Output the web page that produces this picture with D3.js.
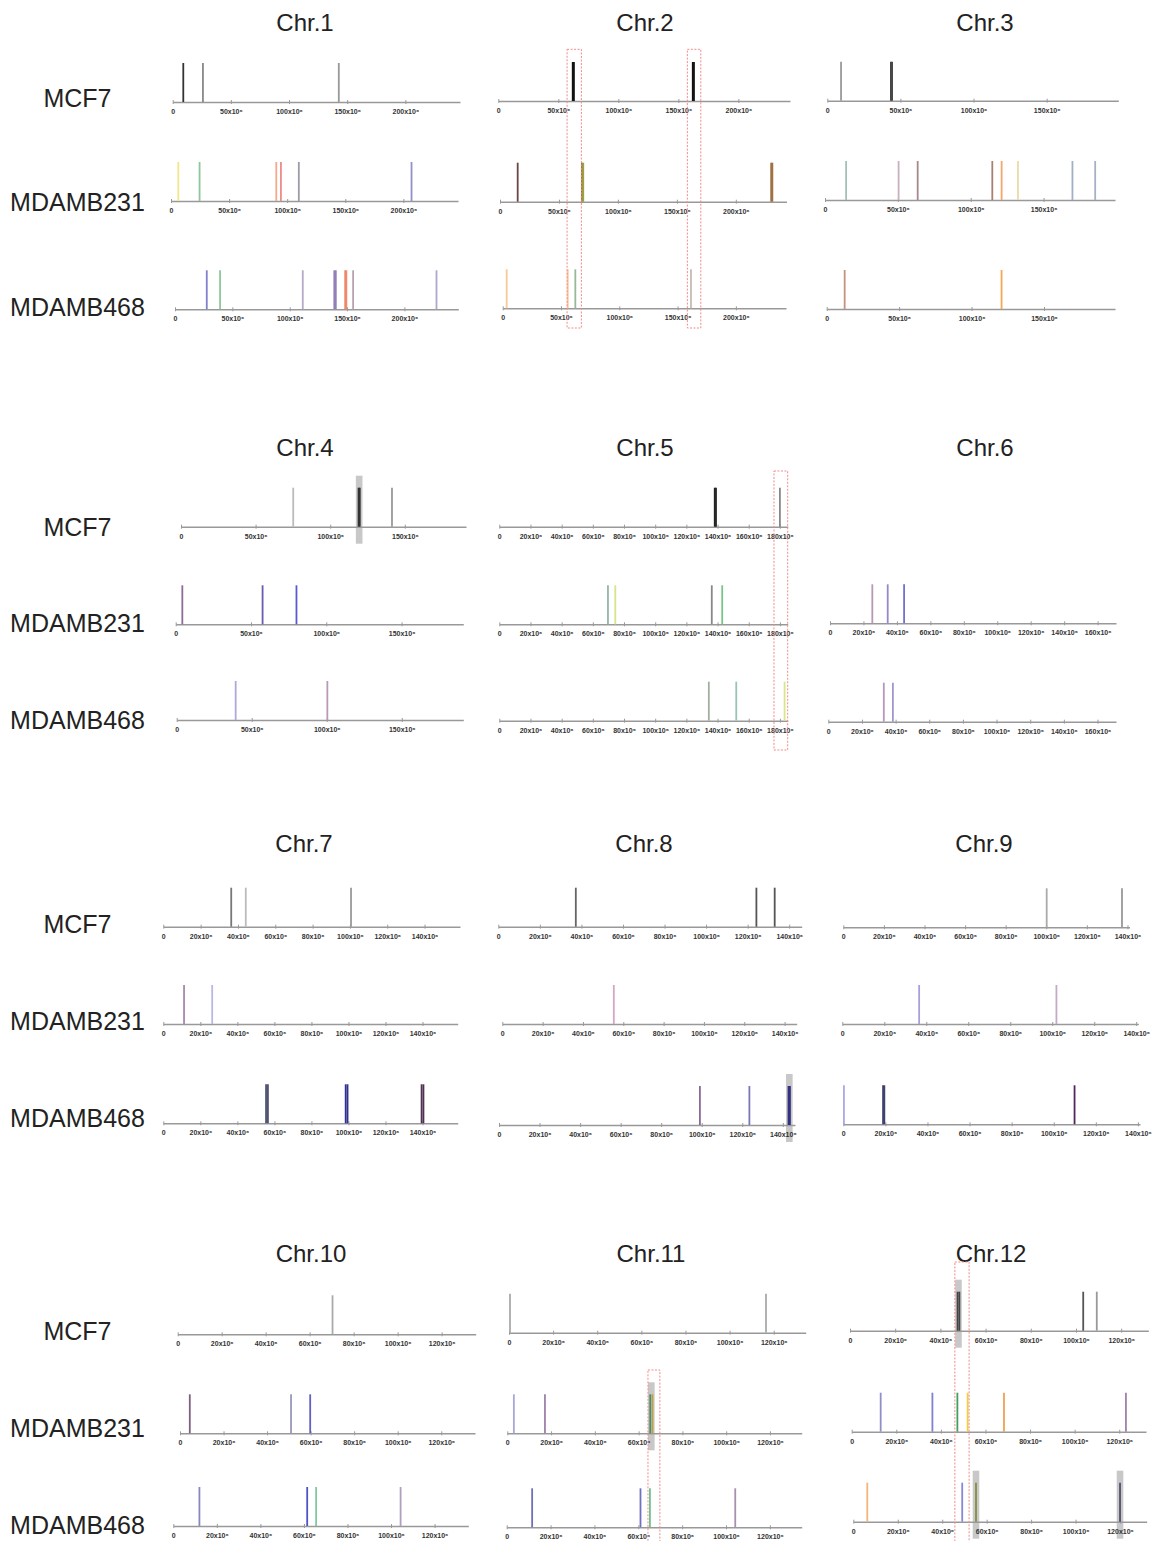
<!DOCTYPE html>
<html><head><meta charset="utf-8">
<script src="https://cdn.jsdelivr.net/npm/d3@7"></script>
<style>body{margin:0;background:#fff}</style>
</head><body>
<script>
// ---------------- DATA ----------------
const chromosomes = ["Chr.1","Chr.2","Chr.3","Chr.4","Chr.5","Chr.6","Chr.7","Chr.8","Chr.9","Chr.10","Chr.11","Chr.12"];
const cellLines = ["MCF7","MDAMB231","MDAMB468"];
const axisMaxMb = [247,243,199,191,185,171,159,146,141,135.5,134.5,132];
const tickStepMb = [50,50,50,50,20,20,20,20,20,20,20,20];
const tickMaxMb = [200,200,150,150,180,160,140,140,140,120,120,120];

// events: [position (Mb), colour]
const eventsMCF7 = [
  [[9.1,"#333"],[26,"#888"],[142.8,"#999"]],
  [[62,"#111"],[63,"#111"],[162,"#111"],[163,"#111"]],
  [[9.4,"#999"],[43.5,"#444"],[44.3,"#444"]],
  [[75.2,"#bbb"],[119,"#333"],[119.8,"#333"],[141.4,"#999"]],
  [[138.2,"#222"],[139,"#222"],[180,"#888"]],
  null,
  [[36.4,"#777"],[44.2,"#bbb"],[100.6,"#999"]],
  [[37.3,"#666"],[124.2,"#555"],[133,"#555"]],
  [[100.2,"#aaa"],[137.3,"#999"]],
  [[70.4,"#aaa"]],
  [[0.45,"#aaa"],[116.5,"#aaa"]],
  [[47.6,"#444"],[48.4,"#444"],[103.2,"#555"],[109.2,"#999"]]
];
const eventsMDAMB231 = [
  [[6.3,"#f3e68a"],[24.6,"#8fc79c"],[90.6,"#f4aa8a"],[94.6,"#ef8a8a"],[110,"#a09aa8"],[207,"#9090cc"]],
  [[15,"#6b4545"],[69.5,"#7a7a30"],[70.6,"#a0a040"],[230,"#a07040"],[231,"#a07040"]],
  [[14.5,"#a0c0b8"],[50.5,"#c8b0c0"],[63.6,"#a88888"],[114.8,"#a88070"],[121.2,"#f4a868"],[132.4,"#e8dca8"],[169.8,"#a0b0c8"],[185.4,"#a8b0c4"]],
  [[4.4,"#906a9a"],[57.7,"#6a5ab0"],[80.2,"#5a5acc"]],
  [[69.7,"#90b8a8"],[74.4,"#d8e488"],[136.3,"#888"],[143,"#78c488"]],
  [[25.3,"#b898b8"],[34.5,"#9888c8"],[44.3,"#7070d0"]],
  [[11.2,"#a888a8"],[26.4,"#b8b8e8"]],
  [[55.3,"#d0a8c0"]],
  [[36.6,"#a8a0d8"],[102,"#c8a8c8"]],
  [[4.5,"#806080"],[51,"#9898b8"],[59.8,"#6060c8"]],
  [[3,"#a8a8d8"],[17.2,"#a080a8"],[65.3,"#409070"],[66.3,"#c0a040"]],
  [[13,"#9090c8"],[36.2,"#8080d0"],[47.4,"#40a060"],[52,"#f0d040"],[68.3,"#f0a050"],[123,"#a080a8"]]
];
const eventsMDAMB468 = [
  [[27.7,"#8080cc"],[39.3,"#8cc89c"],[111.4,"#b4aac8"],[138.9,"#9080b8"],[140.2,"#9080b8"],[148.4,"#f08060"],[149.4,"#f08a6a"],[155.3,"#b8a0b0"],[228,"#b0a8cc"]],
  [[3.4,"#f8c898"],[55.8,"#f8c898"],[62.3,"#98b898"],[161.5,"#c8bab4"]],
  [[12.4,"#c89080"],[120.7,"#f4a850"]],
  [[39.3,"#b0a8d8"],[100.4,"#b89ab8"]],
  [[134.4,"#a0b0a0"],[152,"#98c4b4"],[183,"#dce488"]],
  [[33,"#b898b8"],[38.4,"#a098cc"]],
  [[55.5,"#505070"],[56.5,"#505070"],[98.5,"#303090"],[99.5,"#303090"],[139.5,"#503050"],[140.5,"#503050"]],
  [[99.1,"#8a6a98"],[123.5,"#7878b8"],[142.8,"#303080"],[143.5,"#303080"]],
  [[0.3,"#a8a8e8"],[18.9,"#404070"],[19.5,"#404070"],[109.9,"#502858"]],
  [[12,"#8888c0"],[61.5,"#5050c8"],[65.6,"#80c8a0"],[104.4,"#b0a0c0"]],
  [[11.6,"#7070b8"],[61,"#7070c0"],[65.3,"#70c090"],[104.2,"#a890b0"]],
  [[6.3,"#f4b478"],[49,"#8888d8"],[55.2,"#809040"],[120,"#505070"]]
];
const allEvents = [eventsMCF7, eventsMDAMB231, eventsMDAMB468];

// grey-shaded events: [chromosome index, cell line index, position Mb]
const shadedEvents = [[3,0,119.4],[7,2,143.2],[10,1,65.8],[11,0,48],[11,2,55.2],[11,2,120]];
// red dashed highlight regions: [chromosome index, from Mb, to Mb]
const highlightRegions = [[1,57.3,69.2],[1,157.5,168.7],[4,176.2,185],[10,63,68.4],[11,46.4,52.7]];

// ---------------- LAYOUT ----------------
const W = 1157, H = 1541;
const panelRange = [
  [[172.7,460],[171,458],[175,458.3]],
  [[498.3,790],[500,786.5],[502.7,786]],
  [[827.3,1118.3],[825,1115],[826.7,1115]],
  [[181,466],[175.7,463.3],[176.7,463.3]],
  [[499.3,787.7],[499.3,787.7],[499.3,787.7]],
  [null,[830,1116],[828.3,1116]],
  [[163.3,460],[163.3,457.7],[163.3,457.7]],
  [[498.3,801.7],[502.3,796.7],[499,795]],
  [[843.3,1129.5],[842.3,1138.3],[843.3,1140]],
  [[177.7,475.7],[180,475],[173.3,468.3]],
  [[509,805.7],[507.3,801.7],[506.7,801.7]],
  [[850,1148.3],[851.7,1146],[853.3,1146.7]]
];
const panelBaseline = [
  [102,201,309.3],[101,201.7,308.3],[100.7,200,309],
  [526.7,624.3,720],[526.7,624.3,720.7],[null,623.3,721.7],
  [926.7,1024,1123.3],[926.7,1024,1125],[927.3,1024,1124.3],
  [1334.3,1433.3,1526],[1332.7,1433.3,1527.3],[1330.7,1431.7,1521.7]
];
const eventHeight = 39;
const titleX = [305,645,985,305,645,985,304,644,984,311,651,991];
const titleY = [22,447,843,1253];
const rowLabelY = [[98,202,307],[527,623,720],[924,1021,1118],[1331,1428,1525]];
const highlightSpan = {1:[49.3,328],4:[471,750],10:[1370,1545],11:[1262,1545]};

const svg = d3.select("body").append("svg").attr("width",W).attr("height",H)
  .style("font-family","'Liberation Sans', Arial, sans-serif");

// titles
chromosomes.forEach((name,c)=>{
  svg.append("text").attr("x",titleX[c]).attr("y",titleY[Math.floor(c/3)])
    .attr("text-anchor","middle").attr("dominant-baseline","central")
    .attr("font-size",24).attr("fill","#222").text(name);
});
// row labels
rowLabelY.forEach(ys=>{
  ys.forEach((yy,k)=>{
    svg.append("text").attr("x",77.5).attr("y",yy).attr("text-anchor","middle")
      .attr("dominant-baseline","central").attr("font-size",25).attr("fill","#222").text(cellLines[k]);
  });
});

const fmt = v => v===0 ? "0" : v+"x10\u2076";
const scales = {};

chromosomes.forEach((name,c)=>{
  cellLines.forEach((cl,k)=>{
    const ev = allEvents[k][c];
    if(!ev || !panelRange[c][k]) return;
    const base = panelBaseline[c][k];
    const x = d3.scaleLinear().domain([0,axisMaxMb[c]]).range(panelRange[c][k]);
    const y = d3.scaleLinear().domain([0,1]).range([base, base-eventHeight]);
    scales[c+"_"+k] = x;
    const g = svg.append("g");

    // shaded boxes
    g.selectAll("rect.shade").data(shadedEvents.filter(s=>s[0]===c && s[1]===k)).join("rect")
      .attr("class","shade")
      .attr("x",d=>x(d[2])-3.3).attr("width",6.6)
      .attr("y",y(1)-12).attr("height",(y(0)+17)-(y(1)-12))
      .attr("fill","#9a9a9a").attr("opacity",0.55);

    // axis
    const ticks = d3.range(0, tickMaxMb[c]+0.1, tickStepMb[c]);
    const ax = g.append("g").attr("transform",`translate(0,${base})`)
      .call(d3.axisBottom(x).tickValues(ticks).tickSizeInner(2).tickSizeOuter(0).tickFormat(fmt));
    ax.select(".domain").attr("stroke","#999").attr("stroke-width",1.4);
    ax.selectAll(".tick line").attr("y1",-2).attr("y2",2).attr("stroke","#999");
    ax.selectAll(".tick text").attr("y",7).attr("font-size",7).attr("font-weight","bold").attr("fill","#333")
      .attr("font-family","'Liberation Sans', Arial, sans-serif");

    // event lines
    g.selectAll("line.ev").data(ev).join("line").attr("class","ev")
      .attr("x1",d=>x(d[0])).attr("x2",d=>x(d[0]))
      .attr("y1",y(0)).attr("y2",y(1))
      .attr("stroke",d=>d[1]).attr("stroke-width",1.8);
  });
});

// red dashed highlight boxes (use the scale of the top existing panel)
highlightRegions.forEach(([c,a,b])=>{
  const x = scales[c+"_0"] || scales[c+"_1"];
  const [y0,y1] = highlightSpan[c];
  svg.append("rect").attr("x",x(a)).attr("width",x(b)-x(a))
    .attr("y",y0).attr("height",y1-y0)
    .attr("fill","none").attr("stroke","#f28a8a").attr("stroke-width",1)
    .attr("stroke-dasharray","2,1.5");
});
</script>
</body></html>
